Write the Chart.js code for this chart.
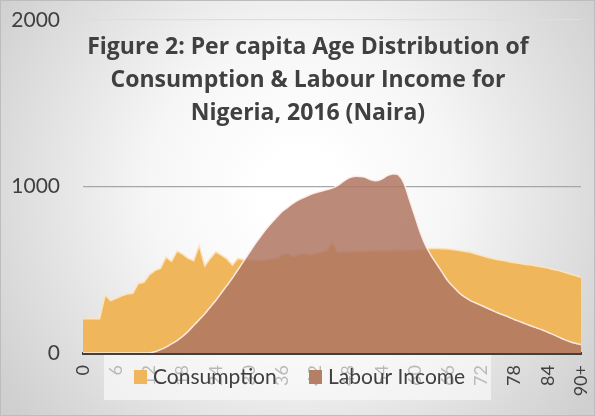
<!DOCTYPE html>
<html>
<head>
<meta charset="utf-8">
<script src="https://cdn.jsdelivr.net/npm/chart.js@4"></script>
<style>
  html, body { margin: 0; padding: 0; background: #fff; }
  #wrap { width: 595px; height: 416px; }
</style>
</head>
<body>
<div id="wrap"><canvas id="grafico" width="595" height="416"></canvas></div>
<script>
// ages 0..89 plus 90+
const idades = [];
for (let i = 0; i < 90; i++) idades.push(String(i));
idades.push('90+');

const consumo = [
  205, 205, 205, 205, 348, 314, 328, 344, 354, 358,
  418, 425, 470, 495, 508, 575, 550, 612, 594, 568,
  554, 645, 522, 568, 608, 588, 565, 528, 568, 560,
  560, 558, 556, 560, 565, 570, 590, 598, 580, 590,
  600, 590, 598, 605, 615, 668, 605, 608, 608, 610,
  610, 612, 612, 614, 614, 615, 616, 617, 618, 619,
  620, 622, 625, 628, 628, 626, 624, 620, 615, 610,
  605, 595, 585, 575, 568, 560, 555, 548, 542, 538,
  532, 528, 522, 516, 510, 502, 495, 485, 475, 465,
  455
];

const rendaTrabalho = [
  0, 0, 0, 0, 0, 0, 0, 0, 0, 0,
  0, 0, 0, 8, 20, 35, 55, 75, 100, 130,
  165, 200, 235, 275, 315, 360, 405, 450, 500, 550,
  600, 650, 695, 740, 780, 815, 850, 875, 900, 920,
  935, 950, 962, 972, 980, 990, 1005, 1030, 1050, 1060,
  1060, 1055, 1040, 1035, 1045, 1065, 1075, 1070, 1020, 920,
  820, 720, 640, 580, 530, 480, 430, 395, 360, 335,
  315, 300, 285, 270, 255, 240, 228, 215, 200, 188,
  175, 162, 150, 138, 125, 110, 95, 80, 68, 58,
  50
];

const titulo = [
  'Figure 2: Per capita Age Distribution of',
  'Consumption & Labour Income for',
  'Nigeria, 2016 (Naira)'
];
const nomesSeries = ['Consumption', 'Labour Income'];
const coresSeries = ['#f0b65c', 'rgba(175,118,98,0.85)'];

const fundoPlugin = {
  id: 'fundo',
  beforeDraw(chart) {
    const ctx = chart.ctx;
    const g = ctx.createRadialGradient(300, 190, 40, 300, 190, 360);
    g.addColorStop(0, '#ffffff');
    g.addColorStop(0.35, '#f6f6f6');
    g.addColorStop(1, '#cfcfcf');
    ctx.save();
    ctx.fillStyle = g;
    ctx.fillRect(0, 0, chart.width, chart.height);
    ctx.strokeStyle = '#bdbdbd';
    ctx.lineWidth = 1;
    ctx.strokeRect(0.5, 0.5, chart.width - 1, chart.height - 1);
    ctx.restore();
  }
};

const tituloPlugin = {
  id: 'tituloSobreposto',
  afterDraw(chart) {
    const ctx = chart.ctx;
    ctx.save();
    ctx.fillStyle = '#404040';
    ctx.font = 'bold 23px "Open Sans"';
    ctx.textAlign = 'center';
    ctx.textBaseline = 'alphabetic';
    titulo.forEach((linha, i) => ctx.fillText(linha, 308, 53.5 + i * 33.3));
    ctx.restore();
  }
};

const legendaPlugin = {
  id: 'legendaSobreposta',
  afterDraw(chart) {
    const ctx = chart.ctx;
    ctx.save();
    ctx.fillStyle = 'rgba(250,250,250,0.65)';
    ctx.fillRect(104, 355, 387, 45);
    ctx.font = '21px Lato';
    ctx.textBaseline = 'middle';
    const posicoes = [134, 309];
    nomesSeries.forEach((nome, i) => {
      const x = posicoes[i];
      ctx.fillStyle = i === 0 ? coresSeries[0] : '#b57f66';
      ctx.fillRect(x, 370, 13, 14);
      ctx.fillStyle = '#404040';
      ctx.fillText(nome, x + 19, 377);
    });
    ctx.restore();
  }
};

new Chart(document.getElementById('grafico').getContext('2d'), {
  type: 'line',
  data: {
    labels: idades,
    datasets: [
      {
        label: nomesSeries[1],
        data: rendaTrabalho,
        fill: 'origin',
        backgroundColor: coresSeries[1],
        borderColor: 'rgba(255,240,235,0.9)',
        borderWidth: 1.5,
        pointRadius: 0,
        tension: 0.3,
        order: 0
      },
      {
        label: nomesSeries[0],
        data: consumo,
        fill: 'origin',
        backgroundColor: coresSeries[0],
        borderColor: '#fbe3bd',
        borderWidth: 1.5,
        pointRadius: 0,
        tension: 0,
        order: 1
      }
    ]
  },
  options: {
    responsive: false,
    animation: false,
    layout: { padding: { top: 20, right: 14, left: 0, bottom: 0 } },
    plugins: {
      legend: { display: false },
      title: { display: false },
      tooltip: { enabled: false }
    },
    scales: {
      x: {
        offset: false,
        grid: { display: false },
        border: { color: '#404040', width: 3 },
        ticks: {
          autoSkip: false,
          maxRotation: 90,
          minRotation: 90,
          color: '#404040',
          font: { family: 'Lato', size: 18 },
          padding: 4,
          callback: function (v, i) { return i % 6 === 0 ? this.getLabelForValue(v) : ''; }
        },
        afterFit: s => { s.height = 63; s.paddingLeft = 0; s.paddingRight = 0; }
      },
      y: {
        min: 0,
        max: 2000,
        border: { display: false },
        grid: {
          color: c => c.tick.value === 1000 ? '#a6a6a6' : '#dedede',
          lineWidth: 1.2,
          drawTicks: false
        },
        ticks: {
          stepSize: 1000,
          color: '#404040',
          font: { family: 'Lato', size: 21 },
          padding: 23,
          callback: v => String(v)
        },
        afterFit: s => { s.width = 83; s.paddingTop = 0; s.paddingBottom = 0; }
      }
    }
  },
  plugins: [fundoPlugin, tituloPlugin, legendaPlugin]
});
</script>
</body>
</html>
